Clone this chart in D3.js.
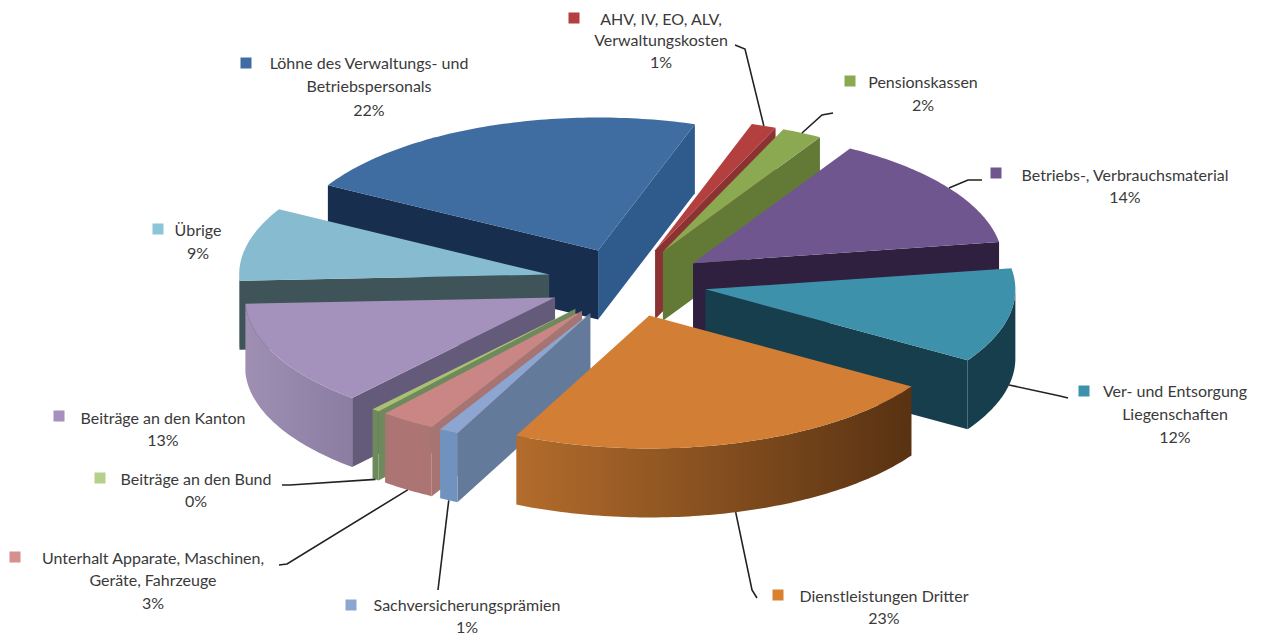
<!DOCTYPE html>
<html>
<head>
<meta charset="utf-8">
<script src="https://cdn.jsdelivr.net/npm/d3@7"></script>
<style>
  html, body { margin: 0; padding: 0; background: #fff; overflow: hidden; }
  text { font-family: Lato, "Open Sans", sans-serif; font-size: 16px; fill: #3a3a3a; }
</style>
</head>
<body>
<div id="chart"></div>
<script>
'use strict';

// clockwise from the AHV slice
const categories = [
  'AHV, IV, EO, ALV, Verwaltungskosten',
  'Pensionskassen',
  'Betriebs-, Verbrauchsmaterial',
  'Ver- und Entsorgung Liegenschaften',
  'Dienstleistungen Dritter',
  'Sachversicherungsprämien',
  'Unterhalt Apparate, Maschinen, Geräte, Fahrzeuge',
  'Beiträge an den Bund',
  'Beiträge an den Kanton',
  'Übrige',
  'Löhne des Verwaltungs- und Betriebspersonals'
];
const values = [1.3, 2.1, 14, 11.5, 23.1, 1, 2.9, 0.4, 12.9, 8.9, 21.9];
const label_lines = [
  ['AHV, IV, EO, ALV,', 'Verwaltungskosten'],
  ['Pensionskassen'],
  ['Betriebs-, Verbrauchsmaterial'],
  ['Ver- und Entsorgung', 'Liegenschaften'],
  ['Dienstleistungen Dritter'],
  ['Sachversicherungsprämien'],
  ['Unterhalt Apparate, Maschinen,', 'Geräte, Fahrzeuge'],
  ['Beiträge an den Bund'],
  ['Beiträge an den Kanton'],
  ['Übrige'],
  ['Löhne des Verwaltungs- und', 'Betriebspersonals']
];

// styles: face, start wall, end wall, rim gradient
const face_colors = ['#B3403E', '#8BA950', '#70568F', '#3E91AB', '#D27E35', '#8DA6D1', '#CA8684', '#A9C171', '#A492BC', '#86BBD0', '#3F6CA1'];
const start_wall_colors = ['#8B3332', '#637A37', '#2F2040', '#173E4C', '#8A5624', '#637A9B', '#A67472', '#6E8A5C', '#645A7A', '#3F5459', '#172E4F'];
const end_wall_colors = ['#8B3332', '#637A37', '#2F2040', '#173E4C', '#8A5624', '#637A9B', '#A67472', '#6E8A5C', '#645A7A', '#3F5459', '#2F5A8C'];
const rim_colors = [
  ['#8B3332', '#8B3332'], ['#637A37', '#637A37'], ['#2F2040', '#2F2040'], ['#173E4C', '#173E4C'],
  ['#B36C2C', '#583212'], ['#7092BE', '#7092BE'], ['#AC7472', '#AC7472'], ['#6E8A5C', '#6E8A5C'],
  ['#9E8FB3', '#8B7CA2'], ['#2E4A54', '#2E4A54'], ['#2F5A8C', '#2F5A8C']
];
const key_colors = ['#B3403E', '#8BA950', '#70568F', '#3E91AB', '#D9812F', '#8DA6D1', '#D58F8D', '#B5D08A', '#A492BC', '#8CC4D8', '#3F6CA1'];

// label layout: key x/y, text centre x, first line y, line step, leader end + elbow
const label_layout = [
  { key: [574, 18], x: 661, y: 19, step: 21.5, leader: [[745, 49], [735, 45]] },
  { key: [850, 81], x: 923, y: 82, step: 23, leader: [[822, 115], [833, 113]] },
  { key: [996, 173], x: 1125, y: 175, step: 22, leader: [[968, 180], [982, 180]] },
  { key: [1084, 391], x: 1175, y: 391, step: 23, leader: [[1060, 396], [1068, 398]] },
  { key: [778, 595], x: 884, y: 596, step: 22, leader: [[752, 590], [757, 598]] },
  { key: [351, 605], x: 467, y: 605, step: 22, leader: [[438, 590]] },
  { key: [15, 557], x: 153, y: 558, step: 22.5, leader: [[287, 588 - 24], [279, 565]] },
  { key: [100, 478], x: 196, y: 479, step: 22, leader: [[290, 485], [282, 485]] },
  { key: [59, 416], x: 163, y: 418, step: 22 },
  { key: [158, 229], x: 198, y: 230, step: 23 },
  { key: [246, 63], x: 369, y: 63, step: 23.5 }
];

const dimensions = {
  width: 1268, height: 637,
  cx: 627, cy: 282.5,
  rx: 310, ry: 133,
  explode: 0.258,   // in units of the radius
  depth: 69,
  start_deg: 18.2
};

const rad = (deg) => deg * Math.PI / 180;
const TAU = 2 * Math.PI;

// unit circle -> screen ellipse
const xScale = d3.scaleLinear().domain([-1, 1]).range([dimensions.cx - dimensions.rx, dimensions.cx + dimensions.rx]);
const yScale = d3.scaleLinear().domain([-1, 1]).range([dimensions.cy - dimensions.ry, dimensions.cy + dimensions.ry]);

const pieData = d3.pie().sort(null)
  .startAngle(rad(dimensions.start_deg))
  .endAngle(rad(dimensions.start_deg) + TAU)(values);

const line_gen = d3.line();

function apex(d){
  const mid = (d.startAngle + d.endAngle) / 2;
  return [dimensions.explode * Math.sin(mid), -dimensions.explode * Math.cos(mid)];
}
// point on a slice: r = 0 apex, r = 1 rim, drop = pixels below top face
function point(d, angle, r, drop){
  const a = apex(d);
  return [xScale(a[0] + r * Math.sin(angle)), yScale(a[1] - r * Math.cos(angle)) + (drop || 0)];
}
function arc_points(d, a0, a1, drop){
  const n = Math.max(2, Math.ceil((a1 - a0) / rad(1)));
  return d3.range(n + 1).map((i) => point(d, a0 + (a1 - a0) * i / n, 1, drop));
}

const svg = d3.select('#chart').append('svg')
  .attr('width', dimensions.width)
  .attr('height', dimensions.height);
const defs = svg.append('defs');

// back to front
const order = pieData.slice().sort((a, b) => d3.ascending(point(a, 0, 0)[1], point(b, 0, 0)[1]));

const pie_g = svg.append('g');
order.forEach((d) => {
  const i = d.index;
  const g = pie_g.append('g').attr('class', 'slice');
  const depth = dimensions.depth;
  const a0 = d.startAngle, a1 = d.endAngle;

  // start wall faces the viewer on the left half, end wall on the right half
  if(Math.sin(a0) < 0){
    g.append('path')
      .attr('d', line_gen([point(d, a0, 0), point(d, a0, 1), point(d, a0, 1, depth), point(d, a0, 0, depth)]) + 'Z')
      .attr('fill', start_wall_colors[i]);
  }
  if(Math.sin(a1) > 0){
    g.append('path')
      .attr('d', line_gen([point(d, a1, 0), point(d, a1, 1), point(d, a1, 1, depth), point(d, a1, 0, depth)]) + 'Z')
      .attr('fill', end_wall_colors[i]);
  }

  // outer rim, front half only
  const r0 = Math.max(a0, rad(90)), r1 = Math.min(a1, rad(270));
  if(r1 > r0){
    const grad = defs.append('linearGradient').attr('id', 'rim' + i);
    grad.append('stop').attr('offset', 0).attr('stop-color', rim_colors[i][0]);
    grad.append('stop').attr('offset', 1).attr('stop-color', rim_colors[i][1]);
    const pts = arc_points(d, r0, r1, 0).concat(arc_points(d, r0, r1, depth).reverse());
    g.append('path')
      .attr('d', line_gen(pts) + 'Z')
      .attr('fill', `url(#rim${i})`);
  }

  // top face
  const face = [point(d, 0, 0)].concat(arc_points(d, a0, a1, 0));
  g.append('path')
    .attr('d', line_gen(face) + 'Z')
    .attr('fill', face_colors[i]);
});

// leader lines start at the slice's rim, at its middle angle
const leader_g = svg.append('g').attr('fill', 'none').attr('stroke', '#222').attr('stroke-width', 1.6);
pieData.forEach((d) => {
  const layout = label_layout[d.index];
  if(!layout.leader) return;
  const mid = (d.startAngle + d.endAngle) / 2;
  const drop = Math.cos(mid) < 0 ? dimensions.depth : 0;
  leader_g.append('path').attr('d', line_gen([point(d, mid, 1, drop)].concat(layout.leader)));
});

// labels
const pct = d3.format('.0f');
const label_g = svg.selectAll('g.label').data(pieData).join('g').attr('class', 'label');
label_g.append('rect')
  .attr('x', (d) => label_layout[d.index].key[0] - 5.5)
  .attr('y', (d) => label_layout[d.index].key[1] - 5.5)
  .attr('width', 11)
  .attr('height', 11)
  .attr('fill', (d) => key_colors[d.index]);
label_g.each(function(d){
  const layout = label_layout[d.index];
  const lines = label_lines[d.index].concat([pct(d.value) + '%']);
  d3.select(this).selectAll('text').data(lines).join('text')
    .attr('x', layout.x)
    .attr('y', (t, j) => layout.y + j * layout.step)
    .attr('dy', '0.35em')
    .attr('text-anchor', 'middle')
    .text((t) => t);
});
</script>
</body>
</html>
